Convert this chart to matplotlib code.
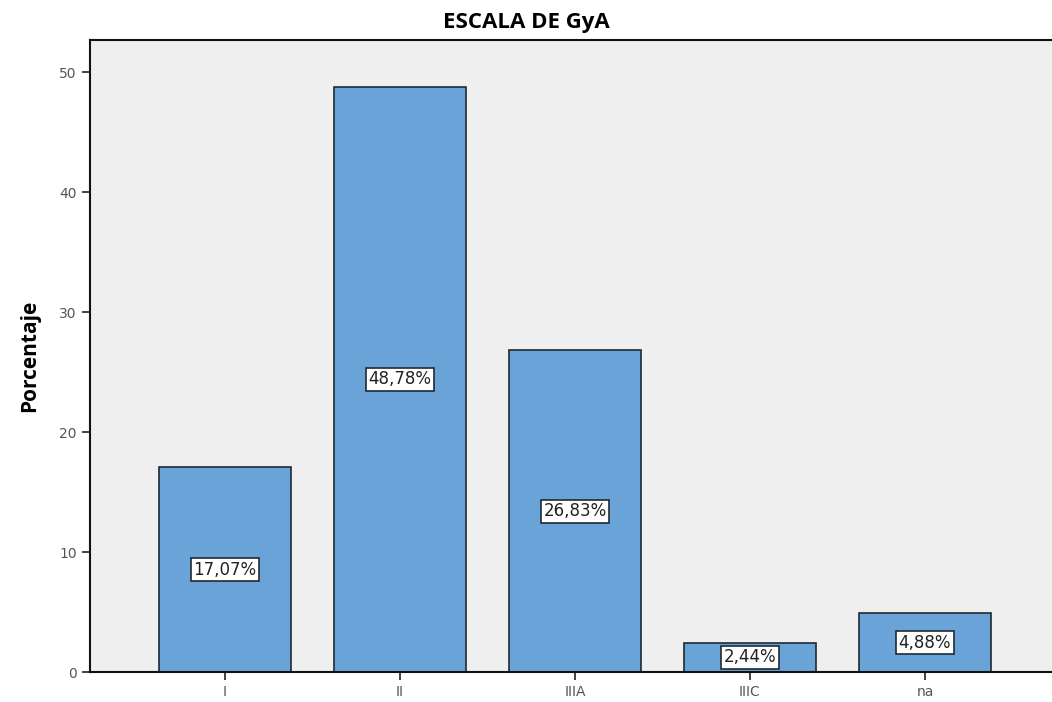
import matplotlib
matplotlib.use("Agg")
import matplotlib.pyplot as plt

# values
categories = ["I", "II", "IIIA", "IIIC", "na"]
percentages = [17.07, 48.78, 26.83, 2.44, 4.88]
labels = ["17,07%", "48,78%", "26,83%", "2,44%", "4,88%"]
yticks = [0, 10, 20, 30, 40, 50]

fig = plt.figure(figsize=(10.52, 7.02), dpi=100)
ax = fig.add_axes([0.0856, 0.0427, 0.9144, 0.9003])
ax.set_facecolor("#efefef")

x = list(range(len(categories)))
bars = ax.bar(x, percentages, width=0.75, color="#6aa3d8",
              edgecolor="#1f2a33", linewidth=1.2, zorder=2)

for xi, v, lab in zip(x, percentages, labels):
    ax.text(xi, v / 2, lab, ha="center", va="center", fontsize=12,
            family="DejaVu Sans", color="#222222", zorder=3,
            bbox=dict(boxstyle="square,pad=0.15", fc="white", ec="#1f2a33", lw=1.2))

ax.set_xlim(-0.771, 4.726)
ax.set_ylim(0, 52.67)
ax.set_xticks(x)
ax.set_xticklabels(categories, fontsize=10, color="#555555")
ax.set_yticks(yticks)
ax.set_yticklabels([str(t) for t in yticks], fontsize=10, color="#555555")
ax.tick_params(axis="both", length=6, width=1.2, color="#222222")

for side in ["left", "bottom", "top"]:
    ax.spines[side].set_linewidth(1.5)
    ax.spines[side].set_color("#111111")
ax.spines["right"].set_visible(False)

ax.set_ylabel("Porcentaje", fontsize=15, fontweight="bold", family="Open Sans",
              labelpad=14)
fig.text(0.5, 0.968, "ESCALA DE GyA", ha="center", va="center",
         fontsize=16, fontweight="bold", family="Open Sans")

fig.savefig("out.png", dpi=100)
